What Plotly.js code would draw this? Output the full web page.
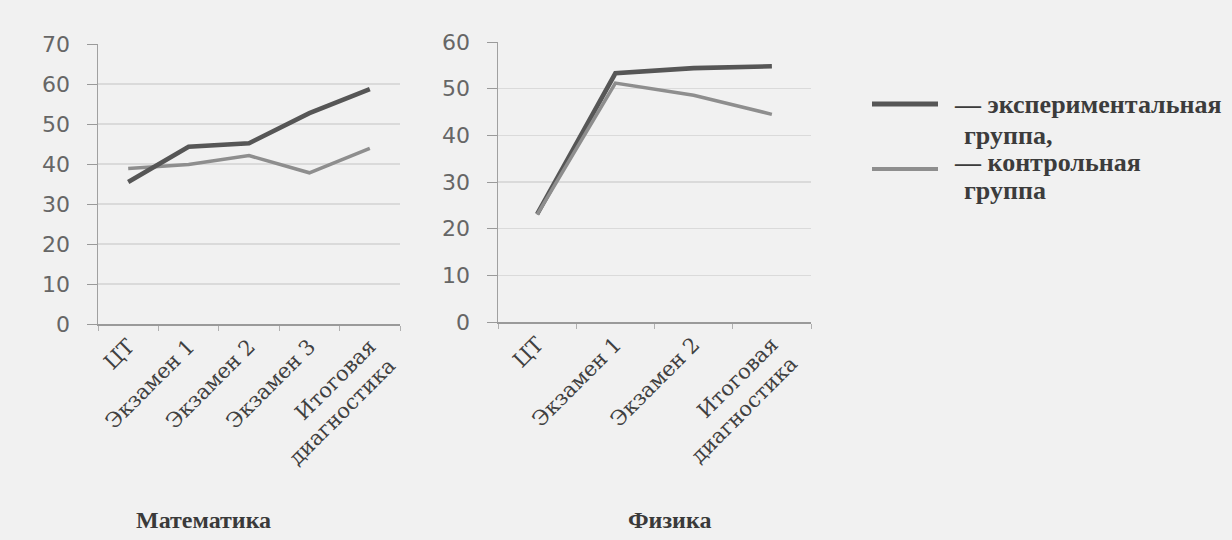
<!DOCTYPE html>
<html>
<head>
<meta charset="utf-8">
<script src="https://cdn.plot.ly/plotly-3.0.1.min.js"></script>
<style>html,body{margin:0;padding:0;background:#f1f1f1;}#chart{width:1232px;height:540px;}</style>
</head>
<body>
<div id="chart"></div>
<script>
// Data
var mathCategories = ["ЦТ", "Экзамен 1", "Экзамен 2", "Экзамен 3", "Итоговая<br>диагностика"];
var mathExperimental = [35.5, 44.3, 45.2, 52.7, 58.7];
var mathControl = [38.9, 39.9, 42.1, 37.8, 43.9];

var physCategories = ["ЦТ", "Экзамен 1", "Экзамен 2", "Итоговая<br>диагностика"];
var physExperimental = [23.1, 53.3, 54.4, 54.8];
var physControl = [23.0, 51.2, 48.6, 44.5];

var mathTicks = [0, 10, 20, 30, 40, 50, 60, 70];
var physTicks = [0, 10, 20, 30, 40, 50, 60];

var chartTitles = ["Математика", "Физика"];
var legendLabels = ["— экспериментальная", "группа,", "— контрольная", "группа"];

var expColor = "#565656", ctrlColor = "#8e8e8e";
var W = 1232, H = 540;
function px(x){ return x / W; }
function py(y){ return 1 - y / H; }

var traces = [
  {x: mathCategories, y: mathControl, xaxis: "x", yaxis: "y", mode: "lines",
   line: {color: ctrlColor, width: 3.5}, hoverinfo: "none"},
  {x: mathCategories, y: mathExperimental, xaxis: "x", yaxis: "y", mode: "lines",
   line: {color: expColor, width: 4.6}, hoverinfo: "none"},
  {x: physCategories, y: physExperimental, xaxis: "x2", yaxis: "y2", mode: "lines",
   line: {color: expColor, width: 4.6}, hoverinfo: "none"},
  {x: physCategories, y: physControl, xaxis: "x2", yaxis: "y2", mode: "lines",
   line: {color: ctrlColor, width: 3.5}, hoverinfo: "none"}
];

var xTickFont = {family: "DejaVu Serif, Liberation Serif, serif", size: 21, color: "#404040"};
var yTickFont = {family: "DejaVu Sans, Liberation Sans, sans-serif", size: 22, color: "#666"};

function xAxis(domain, cats, anchor){
  return {domain: domain, type: "category", range: [-0.5, cats.length - 0.5], anchor: anchor,
    showgrid: false, showline: true, linecolor: "#9a9a9a", linewidth: 1.8,
    ticks: "outside", tickson: "boundaries", ticklen: 5, tickcolor: "#b0b0b0",
    tickangle: -45, tickfont: xTickFont, fixedrange: true, automargin: false, zeroline: false};
}
function yAxis(domain, ticks, anchor){
  return {domain: domain, range: [0, ticks[ticks.length - 1]], tickvals: ticks,
    showgrid: true, gridcolor: "#dadada", gridwidth: 1.2, showline: true, linecolor: "#a0a0a0",
    linewidth: 1.5, ticks: "outside", ticklen: 10, tickcolor: "#9a9a9a", tickfont: yTickFont,
    zeroline: false, anchor: anchor, fixedrange: true, automargin: false, ticklabelstandoff: 12};
}

var serifBold = {family: "Liberation Serif, DejaVu Serif, serif", size: 26, color: "#3c3c3c"};
var titleFont = {family: "Liberation Serif, serif", size: 24, color: "#3a3a3a"};

function ann(text, x, y, xanchor, font){
  return {text: "<b>" + text + "</b>", x: px(x), y: py(y), xref: "paper", yref: "paper",
    xanchor: xanchor, yanchor: "middle", showarrow: false, font: font};
}

var annotations = [
  ann(chartTitles[0], 203, 520, "center", titleFont),
  ann(chartTitles[1], 670, 520, "center", titleFont),
  ann(legendLabels[0], 952, 104, "left", serifBold),
  ann(legendLabels[1], 962, 136, "left", serifBold),
  ann(legendLabels[2], 952, 162, "left", serifBold),
  ann(legendLabels[3], 962, 190, "left", serifBold)
];

var shapes = [
  {type: "line", xref: "paper", yref: "paper", x0: px(872), x1: px(938), y0: py(104), y1: py(104),
   line: {color: expColor, width: 5}},
  {type: "line", xref: "paper", yref: "paper", x0: px(872), x1: px(938), y0: py(169), y1: py(169),
   line: {color: ctrlColor, width: 4}}
];

var layout = {
  width: W, height: H, margin: {l: 0, r: 0, t: 0, b: 0},
  paper_bgcolor: "#f1f1f1", plot_bgcolor: "#f1f1f1", showlegend: false,
  xaxis: xAxis([px(98), px(400)], mathCategories, "y"),
  yaxis: yAxis([py(324), py(44)], mathTicks, "x"),
  xaxis2: xAxis([px(498), px(811)], physCategories, "y2"),
  yaxis2: yAxis([py(322), py(42)], physTicks, "x2"),
  annotations: annotations, shapes: shapes
};

Plotly.newPlot("chart", traces, layout, {staticPlot: true, displayModeBar: false});
</script>
</body>
</html>
